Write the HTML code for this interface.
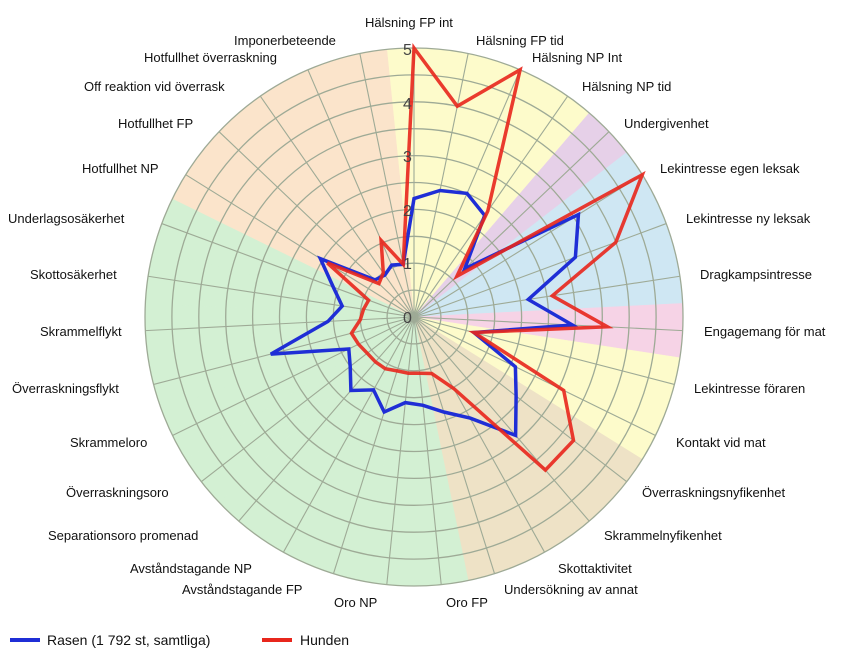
<!DOCTYPE html>
<html><head><meta charset="utf-8"><style>
html,body{margin:0;padding:0;background:#fff;width:859px;height:663px;overflow:hidden}
svg text{font-family:"Liberation Sans",Arial,sans-serif;font-size:13px;fill:#111}
</style></head><body>
<svg id="s" width="859" height="663" viewBox="0 0 859 663" xmlns="http://www.w3.org/2000/svg">
<g id="bg"></g><g id="grid"></g><g id="series"></g>
<g id="nums" style="font-size:16px">
<text x="403" y="323" style="font-size:16px;fill:#444">0</text>
<text x="403" y="269" style="font-size:16px;fill:#444">1</text>
<text x="403" y="216" style="font-size:16px;fill:#444">2</text>
<text x="403" y="162" style="font-size:16px;fill:#444">3</text>
<text x="403" y="109" style="font-size:16px;fill:#444">4</text>
<text x="403" y="55" style="font-size:16px;fill:#444">5</text>
</g>
<g>
<text x="365" y="27">Hälsning FP int</text>
<text x="476" y="45">Hälsning FP tid</text>
<text x="532" y="62">Hälsning NP Int</text>
<text x="582" y="91">Hälsning NP tid</text>
<text x="624" y="128">Undergivenhet</text>
<text x="660" y="173">Lekintresse egen leksak</text>
<text x="686" y="223">Lekintresse ny leksak</text>
<text x="700" y="279">Dragkampsintresse</text>
<text x="704" y="336">Engagemang för mat</text>
<text x="694" y="393">Lekintresse föraren</text>
<text x="676" y="447">Kontakt vid mat</text>
<text x="642" y="497">Överraskningsnyfikenhet</text>
<text x="604" y="540">Skrammelnyfikenhet</text>
<text x="558" y="573">Skottaktivitet</text>
<text x="504" y="594">Undersökning av annat</text>
<text x="446" y="607">Oro FP</text>
<text x="334" y="607">Oro NP</text>
<text x="182" y="594">Avståndstagande FP</text>
<text x="130" y="573">Avståndstagande NP</text>
<text x="48" y="540">Separationsoro promenad</text>
<text x="66" y="497">Överraskningsoro</text>
<text x="70" y="447">Skrammeloro</text>
<text x="12" y="393">Överraskningsflykt</text>
<text x="40" y="336">Skrammelflykt</text>
<text x="30" y="279">Skottosäkerhet</text>
<text x="8" y="223">Underlagsosäkerhet</text>
<text x="82" y="173">Hotfullhet NP</text>
<text x="118" y="128">Hotfullhet FP</text>
<text x="84" y="91">Off reaktion vid överrask</text>
<text x="144" y="62">Hotfullhet överraskning</text>
<text x="234" y="45">Imponerbeteende</text>
</g>
<line x1="10" y1="640" x2="40" y2="640" stroke="#1f2ed6" stroke-width="4"/>
<text x="47" y="645" style="font-size:14px">Rasen (1 792 st, samtliga)</text>
<line x1="262" y1="640" x2="292" y2="640" stroke="#e8261c" stroke-width="4"/>
<text x="300" y="645" style="font-size:14px">Hunden</text>
</svg>
<script>
var cx=414,cy=317,R=269,N=31,NS="http://www.w3.org/2000/svg";
function el(t,a,p){var e=document.createElementNS(NS,t);for(var k in a)e.setAttribute(k,a[k]);document.getElementById(p).appendChild(e);return e;}
function pt(ang,r){var a=ang*Math.PI/180;return [cx+r*Math.sin(a),cy-r*Math.cos(a)];}
var step=360/N;
var cols=["#fdfbcb","#fdfbcb","#fdfbcb","#fdfbcb","#e6d0e8","#cfe7f3","#cfe7f3","#cfe7f3","#f6d3e6","#fdfbcb","#fdfbcb","#eee2c6","#eee2c6","#eee2c6","#eee2c6"];
for(var i=15;i<=25;i++)cols[i]="#d3f0d3";for(i=26;i<=30;i++)cols[i]="#fbe4cb";
for(i=0;i<N;i++){var a0=i*step-step/2,a1=i*step+step/2;var p0=pt(a0,R),p1=pt(a1,R);
el("path",{d:"M"+cx+","+cy+"L"+p0[0]+","+p0[1]+"A"+R+","+R+" 0 0 1 "+p1[0]+","+p1[1]+"Z",fill:cols[i],stroke:cols[i],"stroke-width":0.5},"bg");}
for(i=1;i<=10;i++)el("circle",{cx:cx,cy:cy,r:R*i/10,fill:"none",stroke:"#9eaa96","stroke-width":1.3},"grid");
for(i=0;i<N;i++){var p=pt(i*step,R);el("line",{x1:cx,y1:cy,x2:p[0],y2:p[1],stroke:"#9eaa96","stroke-width":1.1},"grid");}
var blue=[2.2,2.4,2.5,2.3,1.3,3.6,3.2,2.15,2.95,1.15,2.1,2.4,2.9,2.15,1.85,1.65,1.6,1.85,1.55,1.8,1.5,1.35,2.75,1.6,1.35,1.6,2.05,1.0,0.95,1.05,1.0];
var red=[5,4,5,2.4,1.1,5,4,2.6,3.6,1.15,3.1,3.75,3.75,1.52,1.1,1.05,1.05,1.05,1.1,1.1,1.1,1.15,1.2,1.0,0.95,0.9,1.9,0.9,1.0,1.55,1.0];
function poly(v,c,op){var s="";for(var i=0;i<N;i++){var p=pt(i*step,v[i]*R/5);s+=p[0].toFixed(1)+","+p[1].toFixed(1)+" ";}
el("polygon",{points:s,fill:"none",stroke:c,"stroke-width":3.5,"stroke-linejoin":"miter","stroke-opacity":op},"series");}
poly(blue,"#1f2ed6",1);poly(red,"#e8261c",0.9);
</script>
</body></html>
